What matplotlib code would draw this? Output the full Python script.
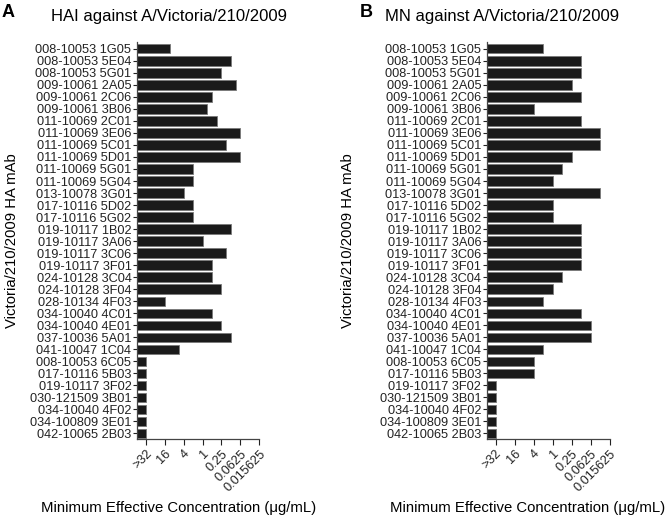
import matplotlib
matplotlib.use('Agg')
import matplotlib.pyplot as plt
import numpy as np

plt.rcParams['font.family'] = ['Liberation Sans', 'DejaVu Sans']

mabs = ['008-10053 1G05', '008-10053 5E04', '008-10053 5G01', '009-10061 2A05',
        '009-10061 2C06', '009-10061 3B06', '011-10069 2C01', '011-10069 3E06',
        '011-10069 5C01', '011-10069 5D01', '011-10069 5G01', '011-10069 5G04',
        '013-10078 3G01', '017-10116 5D02', '017-10116 5G02', '019-10117 1B02',
        '019-10117 3A06', '019-10117 3C06', '019-10117 3F01', '024-10128 3C04',
        '024-10128 3F04', '028-10134 4F03', '034-10040 4C01', '034-10040 4E01',
        '037-10036 5A01', '041-10047 1C04', '008-10053 6C05', '017-10116 5B03',
        '019-10117 3F02', '030-121509 3B01', '034-10040 4F02', '034-100809 3E01',
        '042-10065 2B03']

# minimum effective concentration (ug/mL); 64 stands for ">32" (no activity)
hai_conc = [11.31, 0.125, 0.25, 0.088, 0.5, 0.707, 0.354, 0.0625, 0.177, 0.0625,
            2, 2, 4, 2, 2, 0.125, 1, 0.177, 0.5, 0.5, 0.25, 16, 0.5, 0.25,
            0.125, 5.66, 64, 64, 64, 64, 64, 64, 64]
mn_conc = [2, 0.125, 0.125, 0.25, 0.125, 4, 0.125, 0.03125, 0.03125, 0.25,
           0.5, 1, 0.03125, 1, 1, 0.125, 0.125, 0.125, 0.125, 0.5, 1, 2,
           0.125, 0.0625, 0.0625, 2, 4, 4, 64, 64, 64, 64, 64]

tick_vals = [64, 16, 4, 1, 0.25, 0.0625, 0.015625]
tick_labels = ['>32', '16', '4', '1', '0.25', '0.0625', '0.015625']

fig = plt.figure(figsize=(6.7, 5.2), dpi=100)

panels = [
    (hai_conc, [0.2045, 0.155, 0.1825, 0.765], 'A', 'HAI against A/Victoria/210/2009',
     0.012, 0.252, 0.018, 0.266),
    (mn_conc, [0.7264, 0.155, 0.184, 0.765], 'B', 'MN against A/Victoria/210/2009',
     0.547, 0.749, 0.519, 0.787),
]

for conc, pos, letter, title, lx, tx, yx, xx in panels:
    ax = fig.add_axes(pos)
    ax.set_xscale('log', base=2)
    xleft = 64 * 4 ** 0.47
    y = np.arange(len(mabs))
    c = np.array(conc)
    ax.barh(y, c - xleft, left=xleft, height=0.78, color='#1a1a1a',
            edgecolor='#7a7a7a', linewidth=0.6)
    ax.set_xlim(xleft, 0.015625)
    ax.set_ylim(len(mabs) - 0.5, -0.6)
    ax.set_yticks(y)
    ax.set_yticklabels(mabs, fontsize=9.2)
    ax.set_xticks(tick_vals)
    ax.set_xticklabels(tick_labels, fontsize=9.2, rotation=45, ha='right',
                       rotation_mode='anchor')
    ax.minorticks_off()
    ax.tick_params(axis='y', length=3, width=0.8, pad=1, colors='#222222')
    ax.tick_params(axis='x', length=4, width=0.8, pad=2, colors='#222222')
    for s in ['top', 'right']:
        ax.spines[s].set_visible(False)
    for s in ['left', 'bottom']:
        ax.spines[s].set_color('#444444')
        ax.spines[s].set_linewidth(0.9)

    fig.text(lx, 0.976, letter, fontsize=13, fontweight='bold', ha='center', va='center')
    fig.text(tx, 0.968, title, fontsize=12, ha='center', va='center')
    fig.text(yx, 0.538, 'Victoria/210/2009 HA mAb', fontsize=10.7, rotation=90,
             ha='center', va='center')
    fig.text(xx, 0.023, 'Minimum Effective Concentration (\u03bcg/mL)', fontsize=10.7,
             ha='center', va='center')

fig.savefig('out.png', dpi=100)
